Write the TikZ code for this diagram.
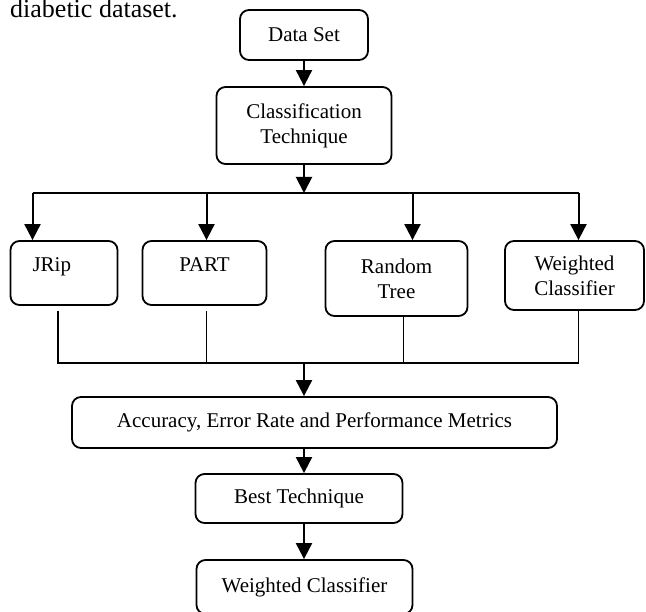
\documentclass[tikz,border=0pt]{standalone}
\usepackage{fontspec}
\setmainfont{Liberation Serif}
\usepackage{tikz}
\usetikzlibrary{shapes, arrows.meta}
\usetikzlibrary{positioning}
\tikzstyle{box} = [rectangle, rounded corners = 9, line width = 1.8,
  minimum width = 16, minimum height = 16, inner sep = 0, draw =
  black, align = center, font = \fontsize{21}{25}\selectfont]
\tikzstyle{flow} = [line width = 2, -{Triangle[length = 16, width = 16]}]
\tikzstyle{joinline} = [line width = 2]
\tikzstyle{thinline} = [line width = 1.3]

\begin{document}
\begin{tikzpicture}[node distance = 0]
      \useasboundingbox (0, 0) rectangle (646pt, -612pt);
      \node [anchor = base west, inner sep = 0, font = \fontsize{26}{30}\selectfont]
        (caption) at (10pt, -18pt) {diabetic dataset.};

      \node [box, minimum width = 128, minimum height = 50] (data) at (304pt, -35pt) {Data Set};
      \node [box, minimum width = 175, minimum height = 77, below of = data, yshift = -90.5]
        (classif) {Classification\\Technique};
      \coordinate [below of = classif, yshift = -67.5] (split);
      \coordinate [left of = split, xshift = -271.5] (split-jrip);
      \coordinate [left of = split, xshift = -97.5] (split-part);
      \coordinate [right of = split, xshift = 108.5] (split-random);
      \coordinate [right of = split, xshift = 274.5] (split-weighted);

      \node [box, minimum width = 107, minimum height = 64, text width = 63, align = left,
        text height = 14, text depth = 16, below of = classif, xshift = -240, yshift = -147.5]
        (jrip) {JRip};
      \node [box, minimum width = 124, minimum height = 64, text height = 14, text depth = 16,
        right of = jrip, xshift = 140.5] (part) {PART};
      \node [box, minimum width = 142, minimum height = 75, right of = part, xshift = 192,
        yshift = -5.5] (random) {Random\\Tree};
      \node [box, minimum width = 139, minimum height = 69, right of = random, xshift = 178,
        yshift = 3] (weighted) {Weighted\\Classifier};

      \coordinate [below of = split, yshift = -170] (merge);
      \node [box, minimum width = 485, minimum height = 51, below of = merge, xshift = 10.5,
        yshift = -59.5] (metrics) {Accuracy, Error Rate and Performance Metrics};
      \node [box, minimum width = 207, minimum height = 49, below of = metrics, xshift = -15.5,
        yshift = -76] (best) {Best Technique};
      \node [box, minimum width = 216, minimum height = 54, below of = best, xshift = 5.5,
        yshift = -88.5] (final) {Weighted Classifier};

      \draw [flow] (data) -- (classif);
      \draw [flow] (classif) -- (split);
      \draw [joinline] (split-jrip) -- (split-weighted);
      \draw [flow] (split-jrip) -- (split-jrip |- jrip.north);
      \draw [flow] (split-part) -- (split-part |- part.north);
      \draw [flow] (split-random) -- (split-random |- random.north);
      \draw [flow] (split-weighted) -- (split-weighted |- weighted.north);

      \draw [joinline] ([xshift = -6.5, yshift = -5] jrip.south) |- (merge);
      \draw [thinline] ([xshift = 2, yshift = -5] part.south) |- (merge);
      \draw [thinline] ([xshift = 7] random.south) |- (merge);
      \draw [thinline] ([xshift = 4] weighted.south) |- (merge);

      \draw [flow] (merge) -- (merge |- metrics.north);
      \draw [flow] (merge |- metrics.south) -- (merge |- best.north);
      \draw [flow] (merge |- best.south) -- (merge |- final.north);
    \end{tikzpicture}
\end{document}
